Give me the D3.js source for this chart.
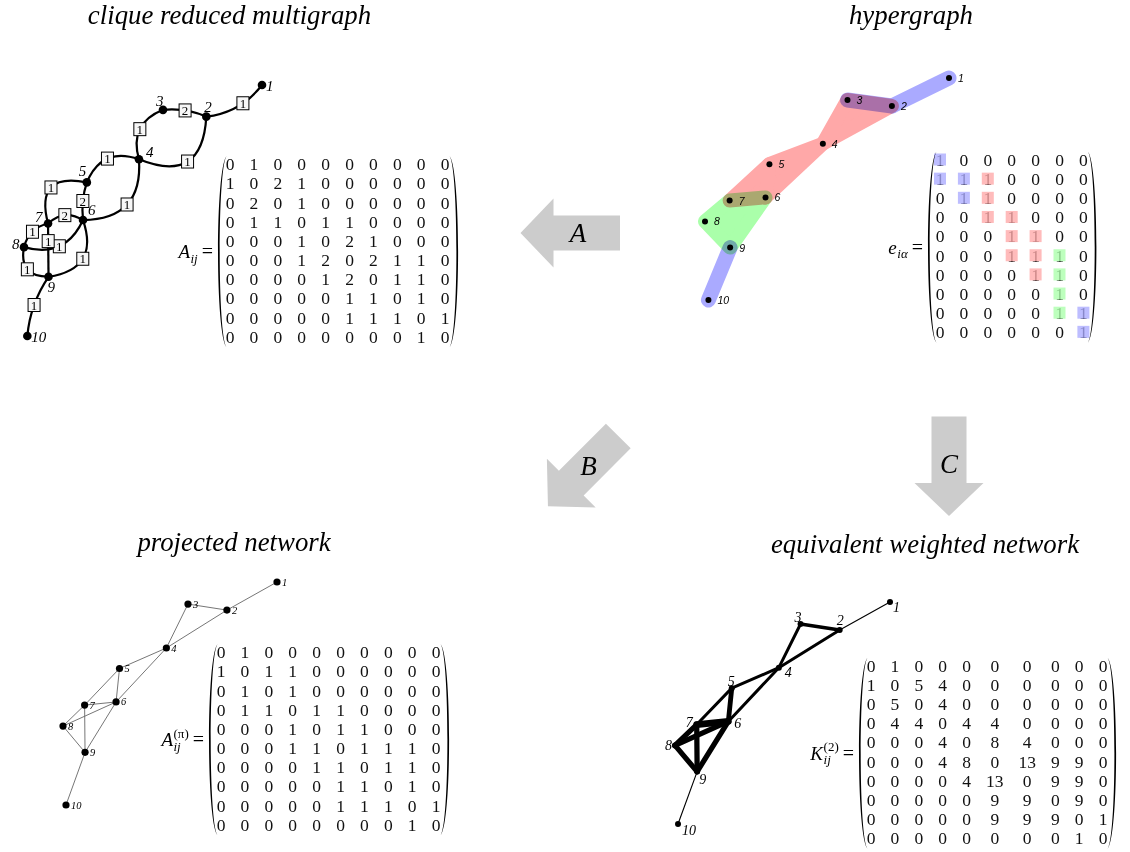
<!DOCTYPE html>
<html><head><meta charset="utf-8">
<script src="https://cdn.jsdelivr.net/npm/d3@7"></script>
<style>body{margin:0;background:#fff}svg{display:block}</style>
</head><body>
<svg id="c" width="1130" height="852"></svg>
<script>
// ---------------- DATA ----------------
const nodeIds = [1, 2, 3, 4, 5, 6, 7, 8, 9, 10];
// network layout (shared by all four drawings), unit coordinates
const layoutX = [1.0, 0.766, 0.584, 0.483, 0.264, 0.248, 0.101, 0.0, 0.103, 0.014];
const layoutY = [0.0, 0.126, 0.099, 0.296, 0.388, 0.538, 0.552, 0.646, 0.764, 1.0];

const hyperedges = [[1, 2], [2, 3], [2, 3, 4], [4, 5, 6], [5, 6, 7], [6, 7, 8, 9], [9, 10]];
const hyperColors = ["blue", "blue", "red", "red", "red", "green", "blue"];

const titles = ["clique reduced multigraph", "hypergraph", "projected network", "equivalent weighted network"];
const arrowLabels = ["A", "B", "C"];

const matA = [
  [0,1,0,0,0,0,0,0,0,0],
  [1,0,2,1,0,0,0,0,0,0],
  [0,2,0,1,0,0,0,0,0,0],
  [0,1,1,0,1,1,0,0,0,0],
  [0,0,0,1,0,2,1,0,0,0],
  [0,0,0,1,2,0,2,1,1,0],
  [0,0,0,0,1,2,0,1,1,0],
  [0,0,0,0,0,1,1,0,1,0],
  [0,0,0,0,0,1,1,1,0,1],
  [0,0,0,0,0,0,0,0,1,0]];
const matE = [
  [1,0,0,0,0,0,0],
  [1,1,1,0,0,0,0],
  [0,1,1,0,0,0,0],
  [0,0,1,1,0,0,0],
  [0,0,0,1,1,0,0],
  [0,0,0,1,1,1,0],
  [0,0,0,0,1,1,0],
  [0,0,0,0,0,1,0],
  [0,0,0,0,0,1,1],
  [0,0,0,0,0,0,1]];
const matApi = [
  [0,1,0,0,0,0,0,0,0,0],
  [1,0,1,1,0,0,0,0,0,0],
  [0,1,0,1,0,0,0,0,0,0],
  [0,1,1,0,1,1,0,0,0,0],
  [0,0,0,1,0,1,1,0,0,0],
  [0,0,0,1,1,0,1,1,1,0],
  [0,0,0,0,1,1,0,1,1,0],
  [0,0,0,0,0,1,1,0,1,0],
  [0,0,0,0,0,1,1,1,0,1],
  [0,0,0,0,0,0,0,0,1,0]];
const matK = [
  [0,1,0,0,0,0,0,0,0,0],
  [1,0,5,4,0,0,0,0,0,0],
  [0,5,0,4,0,0,0,0,0,0],
  [0,4,4,0,4,4,0,0,0,0],
  [0,0,0,4,0,8,4,0,0,0],
  [0,0,0,4,8,0,13,9,9,0],
  [0,0,0,0,4,13,0,9,9,0],
  [0,0,0,0,0,9,9,0,9,0],
  [0,0,0,0,0,9,9,9,0,1],
  [0,0,0,0,0,0,0,0,1,0]];

// ---------------- STYLE / LAYOUT ----------------
const serif = "'Liberation Serif','Times New Roman',serif";
const sans = "'Liberation Sans',Arial,sans-serif";
const palette = {blue: "#aaaaff", red: "#ffa8a8", green: "#aaffaa"};

function panel(x0, x1, y0, y1) {
  return {x: d3.scaleLinear().domain([0, 1]).range([x0, x1]),
          y: d3.scaleLinear().domain([0, 1]).range([y0, y1])};
}
const P = {
  multi: panel(24, 262, 85, 336),
  hyper: panel(705, 949, 78, 300),
  proj: panel(63, 277, 582, 805),
  weight: panel(675, 890, 602, 824)
};
function pos(p, id) { const i = nodeIds.indexOf(id); return [P[p].x(layoutX[i]), P[p].y(layoutY[i])]; }
function edgesFrom(M) {
  const e = [];
  for (let i = 0; i < M.length; i++) for (let j = i + 1; j < M.length; j++)
    if (M[i][j] > 0) e.push({s: nodeIds[i], t: nodeIds[j], w: M[i][j]});
  return e;
}

const svg = d3.select("#c");

// titles
const titlePos = [[229.5, 23.5], [911, 23.5], [234, 551], [925, 553]];
svg.selectAll("text.title").data(titles).join("text").attr("class", "title")
  .attr("x", (d, i) => titlePos[i][0]).attr("y", (d, i) => titlePos[i][1])
  .attr("text-anchor", "middle").style("font-family", serif).style("font-style", "italic")
  .style("font-size", "26.8px").text(d => d);

// ---------------- arrows ----------------
const arrowCfg = [
  {x: 620, y: 233, angle: 180, at: 42},
  {x: 618.3, y: 436, angle: 135, at: 42},
  {x: 949, y: 416.5, angle: 90, at: 47}];
const arrowShape = [[0, -17.5], [66.5, -17.5], [66.5, -34.5], [99.5, 0], [66.5, 34.5], [66.5, 17.5], [0, 17.5]];
arrowLabels.forEach((lab, i) => {
  const c = arrowCfg[i];
  const g = svg.append("g").attr("transform", `translate(${c.x},${c.y}) rotate(${c.angle})`);
  g.append("path").attr("d", "M" + arrowShape.join("L") + "Z").attr("fill", "#cccccc");
  const a = c.angle * Math.PI / 180;
  svg.append("text").attr("x", c.x + c.at * Math.cos(a)).attr("y", c.y + c.at * Math.sin(a))
    .attr("dy", "0.35em").attr("text-anchor", "middle").style("font-family", serif)
    .style("font-style", "italic").style("font-size", "27px").text(lab);
});

// ---------------- matrices ----------------
function parenPath(xe, xm, y0, y1, th) {
  const h = y1 - y0, a = 0.07 * h;
  const c1 = (xm - 0.25 * xe) / 0.75;
  const c2 = ((xm + th) - 0.25 * xe) / 0.75;
  return `M${xe},${y0}C${c1},${y0 + a} ${c1},${y1 - a} ${xe},${y1}` +
         `C${c2},${y1 - a} ${c2},${y0 + a} ${xe},${y0}Z`;
}
function drawMatrix(M, cfg, colors) {
  const g = svg.append("g");
  const nc = M[0].length, nr = M.length;
  const colW = d3.range(nc).map(j => 15.4 + 8.5 * d3.max(M, r => String(r[j]).length));
  const xs = [cfg.x0];
  for (let j = 1; j < nc; j++) xs.push(xs[j - 1] + (colW[j - 1] + colW[j]) / 2);
  const ys = d3.scalePoint().domain(d3.range(nr)).range([cfg.y0, cfg.y0 + (nr - 1) * 19.15]);
  M.forEach((row, i) => row.forEach((v, j) => {
    g.append("text").attr("x", xs[j]).attr("y", ys(i)).attr("dy", "0.36em")
      .attr("text-anchor", "middle").style("font-family", serif).style("font-size", "17.5px")
      .attr("fill", "#111").text(v);
    if (colors && v) g.append("rect").attr("x", xs[j] - 6).attr("y", ys(i) - 6)
      .attr("width", 12).attr("height", 12).attr("fill", palette[colors[j]]).attr("opacity", 0.78);
  }));
  const top = ys(0) - 8, bot = ys(nr - 1) + 11;
  const xl = xs[0] - 12, xr = xs[nc - 1] + 13;
  g.append("path").attr("d", parenPath(xl + 8.5, xl, top, bot, 1.7)).attr("fill", "#000");
  g.append("path").attr("d", parenPath(xr - 8.5, xr, top, bot, -1.7)).attr("fill", "#000");
  // label
  const yc = (top + bot) / 2, base = yc + 6.5;
  const xe = xl - 5;
  const eq = g.append("text").attr("x", xe).attr("y", base).attr("text-anchor", "end")
    .style("font-family", serif).style("font-size", "20px").text("=");
  let x = xe - eq.node().getComputedTextLength() - 4;
  const scr = [];
  if (cfg.sub) scr.push(g.append("text").attr("y", base + 4.5).style("font-style", "italic").text(cfg.sub));
  if (cfg.sup) scr.push(g.append("text").attr("y", base - 8.5).text(cfg.sup));
  scr.forEach(t => t.style("font-family", serif).style("font-size", "13px"));
  const w = d3.max(scr, t => t.node().getComputedTextLength());
  scr.forEach(t => t.attr("x", x - w));
  g.append("text").attr("x", x - w - 0.5).attr("y", base).attr("text-anchor", "end")
    .style("font-family", serif).style("font-style", "italic").style("font-size", "19px").text(cfg.main);
}
drawMatrix(matA, {x0: 230, y0: 164, main: "A", sub: "ij"});
drawMatrix(matE, {x0: 940, y0: 159.5, main: "e", sub: "iα"}, hyperColors);
drawMatrix(matApi, {x0: 221, y0: 652, main: "A", sub: "ij", sup: "(π)"});
drawMatrix(matK, {x0: 871, y0: 665.5, main: "K", sub: "ij", sup: "(2)"});

// ---------------- clique reduced multigraph ----------------
const multiBend = {"1-2": [-0.21, 0.4], "2-3": [0.13, 0.5], "2-4": [-0.7, 0.5], "3-4": [0.45, 0.5],
  "4-5": [0.47, 0.5], "4-6": [-0.53, 0.5], "5-6": [0.11, 0.5], "5-7": [0.8, 0.5], "6-7": [0.38, 0.5],
  "6-8": [-0.43, 0.5], "6-9": [-0.6, 0.5], "7-8": [0.3, 0.5], "7-9": [0, 0.33], "8-9": [0.6, 0.5], "9-10": [0.13, 0.5]};
const multiLab = {1: [4, 6], 2: [-2, -5], 3: [-7, -4], 4: [7, -2], 5: [-8, -6], 6: [5, -5],
  7: [-13, -2], 8: [-12, 2], 9: [-1, 15], 10: [4, 6]};
{
  const g = svg.append("g");
  const boxes = [];
  edgesFrom(matA).forEach(e => {
    const [x0, y0] = pos("multi", e.s), [x1, y1] = pos("multi", e.t);
    const L = Math.hypot(x1 - x0, y1 - y0), nx = -(y1 - y0) / L, ny = (x1 - x0) / L;
    const [b, t] = multiBend[e.s + "-" + e.t] || [0, 0.5];
    const cx = (x0 + x1) / 2 + b * L * nx, cy = (y0 + y1) / 2 + b * L * ny;
    const p = d3.path(); p.moveTo(x0, y0); p.quadraticCurveTo(cx, cy, x1, y1);
    g.append("path").attr("d", p.toString()).attr("fill", "none").attr("stroke", "#000").attr("stroke-width", 2.2);
    const u = 1 - t;
    boxes.push({x: u * u * x0 + 2 * t * u * cx + t * t * x1, y: u * u * y0 + 2 * t * u * cy + t * t * y1, w: e.w});
  });
  nodeIds.forEach(id => {
    const [x, y] = pos("multi", id);
    g.append("circle").attr("cx", x).attr("cy", y).attr("r", 4.3).attr("fill", "#000");
    g.append("text").attr("x", x + multiLab[id][0]).attr("y", y + multiLab[id][1])
      .style("font-family", serif).style("font-style", "italic").style("font-size", "15px").text(id);
  });
  boxes.forEach(b => {
    g.append("rect").attr("x", b.x - 6).attr("y", b.y - 6.5).attr("width", 12).attr("height", 13)
      .attr("fill", "#f7f7f7").attr("stroke", "#000").attr("stroke-width", 1);
    g.append("text").attr("x", b.x).attr("y", b.y).attr("dy", "0.36em").attr("text-anchor", "middle")
      .style("font-family", serif).style("font-size", "13px").text(b.w);
  });
}

// ---------------- hypergraph ----------------
{
  const g = svg.append("g");
  ["red", "green", "blue"].forEach(c => {
    const cg = g.append("g").style("mix-blend-mode", "multiply");
    hyperedges.forEach((he, k) => {
      if (hyperColors[k] !== c) return;
      const pts = he.map(id => pos("hyper", id));
      if (pts.length === 2) {
        cg.append("path").attr("d", d3.line()(pts)).attr("fill", "none").attr("stroke", palette[c])
          .attr("stroke-width", 15).attr("stroke-linecap", "round");
      } else {
        const hull = d3.polygonHull(pts);
        cg.append("path").attr("d", "M" + hull.join("L") + "Z").attr("fill", palette[c])
          .attr("stroke", palette[c]).attr("stroke-width", 14).attr("stroke-linejoin", "round");
      }
    });
  });
  nodeIds.forEach(id => {
    const [x, y] = pos("hyper", id);
    g.append("circle").attr("cx", x).attr("cy", y).attr("r", 3).attr("fill", "#000");
    g.append("text").attr("x", x + 9).attr("y", y + 4).style("font-family", sans)
      .style("font-style", "italic").style("font-size", "10.5px").text(id);
  });
}

// ---------------- projected network ----------------
{
  const g = svg.append("g");
  edgesFrom(matApi).forEach(e => {
    g.append("path").attr("d", d3.line()([pos("proj", e.s), pos("proj", e.t)]))
      .attr("stroke", "#666").attr("stroke-width", 0.9).attr("fill", "none");
  });
  nodeIds.forEach(id => {
    const [x, y] = pos("proj", id);
    g.append("circle").attr("cx", x).attr("cy", y).attr("r", 3.6).attr("fill", "#000");
    g.append("text").attr("x", x + 5).attr("y", y + 3.5).style("font-family", serif)
      .style("font-style", "italic").style("font-size", "10.5px").text(id);
  });
}

// ---------------- equivalent weighted network ----------------
const weightLab = {1: [3, 10], 2: [-3, -5], 3: [-6, -2], 4: [6, 9], 5: [-4, -2], 6: [6, 7],
  7: [-11, 2], 8: [-10, 5], 9: [2, 12], 10: [4, 11]};
{
  const g = svg.append("g");
  const wScale = d3.scalePow().exponent(0.7).domain([0, 13]).range([0, 6.8]);
  edgesFrom(matK).forEach(e => {
    g.append("path").attr("d", d3.line()([pos("weight", e.s), pos("weight", e.t)]))
      .attr("stroke", "#000").attr("stroke-width", wScale(e.w)).attr("stroke-linecap", "round").attr("fill", "none");
  });
  nodeIds.forEach(id => {
    const [x, y] = pos("weight", id);
    g.append("circle").attr("cx", x).attr("cy", y).attr("r", 3).attr("fill", "#000");
    g.append("text").attr("x", x + weightLab[id][0]).attr("y", y + weightLab[id][1]).style("font-family", serif)
      .style("font-style", "italic").style("font-size", "14px").text(id);
  });
}
</script>
</body></html>
